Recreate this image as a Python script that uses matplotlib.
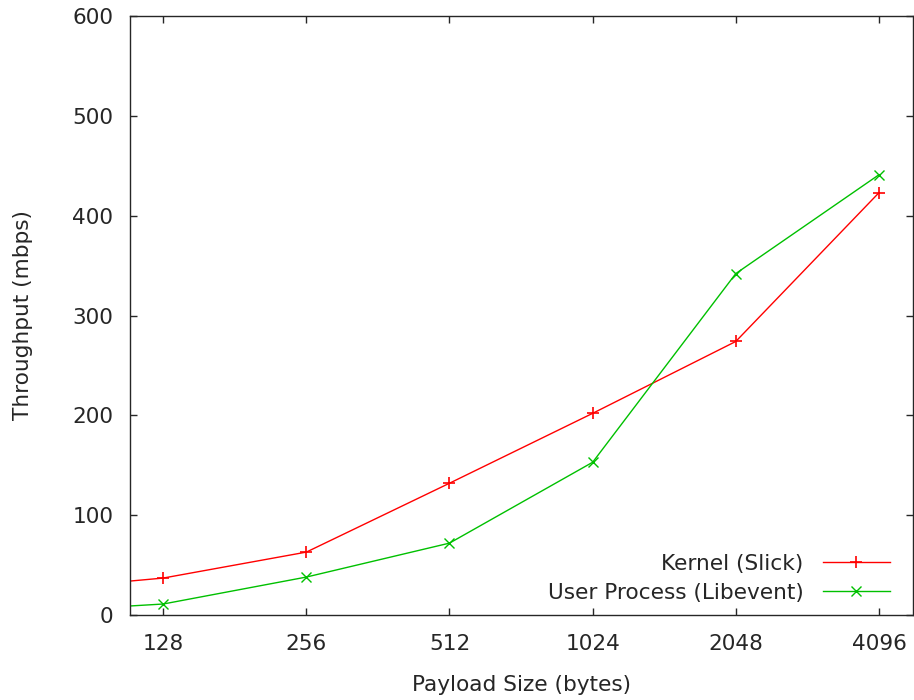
import matplotlib
matplotlib.use("Agg")
import matplotlib.pyplot as plt
from matplotlib.ticker import FixedLocator, FixedFormatter, NullLocator

plt.rcParams['font.family'] = ['DejaVu Sans']

# Payload sizes (bytes); 64 is the clipped leading point whose segment enters from the left edge
payload = [64, 128, 256, 512, 1024, 2048, 4096]
kernel = [24, 37, 63, 132, 202, 274, 423]
user = [2.5, 11, 38, 72, 153, 342, 441]
tick_vals = [128, 256, 512, 1024, 2048, 4096]
tick_labels = ["128", "256", "512", "1024", "2048", "4096"]
yticks = [0, 100, 200, 300, 400, 500, 600]

FS = 15.6
TXT = '#262626'

fig = plt.figure(figsize=(9.14, 7.0), dpi=100)
ax = fig.add_axes([130/914, 85/700, 783/914, 599/700])

ax.plot(payload, kernel, color='#ff0000', lw=1.0, marker='+', ms=9, mew=1.2,
        label='Kernel (Slick)')
ax.plot(payload, user, color='#00c000', lw=1.0, marker='x', ms=7.5, mew=1.0,
        label='User Process (Libevent)')

ax.set_xscale('log', base=2)
ax.set_xlim(109, 4830)
ax.set_ylim(0, 600)
ax.xaxis.set_major_locator(FixedLocator(tick_vals))
ax.xaxis.set_major_formatter(FixedFormatter(tick_labels))
ax.xaxis.set_minor_locator(NullLocator())
ax.set_yticks(yticks)
ax.set_yticklabels([str(v) for v in yticks])

ax.tick_params(axis='both', which='major', direction='in', length=5, width=1,
               top=True, right=True, labelsize=FS, colors=TXT)
ax.tick_params(axis='x', pad=14)
ax.tick_params(axis='y', pad=12)
for s in ax.spines.values():
    s.set_linewidth(1.0)
    s.set_color(TXT)

ax.set_xlabel('Payload Size (bytes)', fontsize=FS, labelpad=15, color=TXT)
ax.set_ylabel('Throughput (mbps)', fontsize=FS, labelpad=28, color=TXT)

leg = ax.legend(loc='lower right', bbox_to_anchor=(0.9706, 0.02), frameon=False,
                markerfirst=False, numpoints=1, fontsize=FS, handlelength=3.1,
                handletextpad=0.9, labelspacing=0.42, borderpad=0, borderaxespad=0)
for t in leg.get_texts():
    t.set_color(TXT)

fig.savefig('out.png', dpi=100)
